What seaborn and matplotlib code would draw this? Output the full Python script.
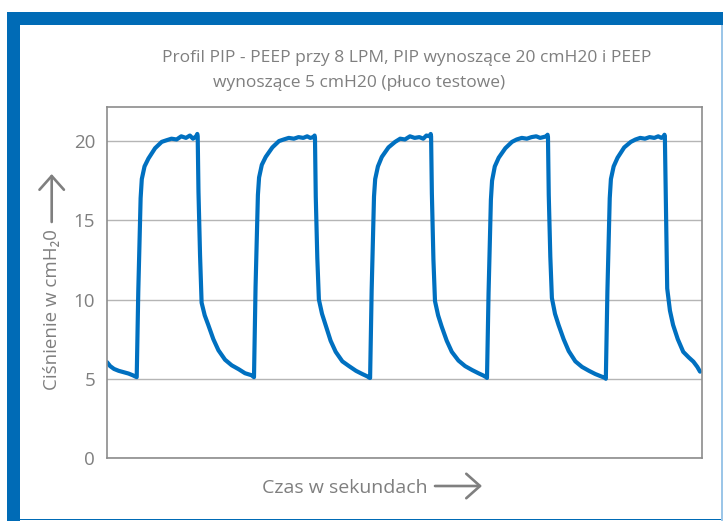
import numpy as np
import pandas as pd
import matplotlib.pyplot as plt
import seaborn as sns
from matplotlib.patches import Rectangle, FancyArrowPatch

# czas [s] i cisnienie [cmH2O], cykl po cyklu
czas_c1 = [0.00, 0.08, 0.18, 0.30, 0.42, 0.55, 0.66, 0.74,
           0.76, 0.80, 0.86, 0.89, 0.96, 1.06, 1.23, 1.40, 1.52, 1.65, 1.78, 1.90, 2.02, 2.12, 2.20, 2.28, 2.31,
           2.32, 2.34, 2.38, 2.42, 2.50, 2.59, 2.72, 2.85, 3.02, 3.19, 3.37, 3.53, 3.70, 3.75]
cisn_c1 = [6.05, 5.80, 5.62, 5.50, 5.42, 5.33, 5.22, 5.12,
           5.10, 10.5, 16.4, 17.6, 18.4, 18.9, 19.55, 19.95, 20.05, 20.15, 20.1, 20.3, 20.2, 20.35, 20.15, 20.3, 20.45,
           20.3, 16.8, 12.8, 9.8, 9.0, 8.4, 7.5, 6.8, 6.2, 5.85, 5.6, 5.35, 5.22, 5.12]

czas_c2 = [3.76, 3.80, 3.86, 3.89, 3.96, 4.06, 4.23, 4.40, 4.52, 4.65, 4.78, 4.90, 5.02, 5.12, 5.20, 5.28, 5.31,
           5.32, 5.34, 5.38, 5.42, 5.50, 5.59, 5.72, 5.85, 6.02, 6.19, 6.37, 6.53, 6.66, 6.72]
cisn_c2 = [5.10, 10.8, 16.6, 17.7, 18.5, 19.0, 19.6, 20.0, 20.1, 20.2, 20.15, 20.25, 20.2, 20.3, 20.2, 20.25, 20.35,
           20.2, 16.5, 12.6, 10.0, 9.1, 8.4, 7.4, 6.7, 6.1, 5.8, 5.5, 5.3, 5.15, 5.05]

czas_c3 = [6.73, 6.77, 6.83, 6.86, 6.93, 7.03, 7.20, 7.37, 7.50, 7.62, 7.75, 7.87, 7.99, 8.09, 8.17, 8.25, 8.28,
           8.29, 8.31, 8.35, 8.39, 8.47, 8.56, 8.69, 8.82, 8.99, 9.16, 9.34, 9.50, 9.63, 9.70]
cisn_c3 = [5.05, 10.6, 16.5, 17.6, 18.4, 19.0, 19.6, 19.95, 20.15, 20.1, 20.3, 20.2, 20.25, 20.15, 20.35, 20.3, 20.45,
           20.3, 16.7, 12.5, 9.9, 9.0, 8.3, 7.4, 6.7, 6.15, 5.8, 5.55, 5.35, 5.2, 5.1]

czas_c4 = [9.72, 9.76, 9.82, 9.85, 9.92, 10.02, 10.19, 10.36, 10.48, 10.61, 10.74, 10.86, 10.98, 11.08, 11.16, 11.24, 11.27,
           11.28, 11.30, 11.34, 11.38, 11.46, 11.55, 11.68, 11.81, 11.98, 12.15, 12.33, 12.49, 12.64, 12.74]
cisn_c4 = [5.05, 10.4, 16.3, 17.5, 18.4, 18.95, 19.55, 19.95, 20.1, 20.2, 20.15, 20.25, 20.3, 20.2, 20.25, 20.3, 20.4,
           20.25, 16.6, 12.7, 10.1, 9.1, 8.4, 7.5, 6.75, 6.1, 5.75, 5.5, 5.3, 5.15, 5.05]

czas_c5 = [12.76, 12.80, 12.86, 12.89, 12.96, 13.06, 13.23, 13.40, 13.52, 13.64, 13.76, 13.88, 14.00, 14.10, 14.18, 14.24, 14.26,
           14.27, 14.29, 14.31, 14.33, 14.40, 14.48, 14.60, 14.74, 14.88, 15.00, 15.10, 15.17]
cisn_c5 = [5.00, 10.5, 16.4, 17.6, 18.4, 18.95, 19.6, 19.95, 20.1, 20.2, 20.15, 20.25, 20.2, 20.3, 20.2, 20.3, 20.4,
           20.3, 17.0, 13.5, 10.7, 9.3, 8.4, 7.5, 6.7, 6.35, 6.08, 5.75, 5.45]

y_ticks = [0, 5, 10, 15, 20]

tytul_1 = 'Profil PIP - PEEP przy 8 LPM, PIP wynoszące 20 cmH20 i PEEP'
tytul_2 = 'wynoszące 5 cmH20 (płuco testowe)'
opis_y = 'Ciśnienie w cmH\u20820'
opis_x = 'Czas w sekundach'

df = pd.DataFrame({
    'czas': czas_c1 + czas_c2 + czas_c3 + czas_c4 + czas_c5,
    'cisnienie': cisn_c1 + cisn_c2 + cisn_c3 + cisn_c4 + cisn_c5,
})

sns.set_style('white')
plt.rcParams['font.family'] = ['Open Sans', 'DejaVu Sans']

W, H = 723, 521
fig = plt.figure(figsize=(W / 100, H / 100), dpi=100)


def fx(px):
    return px / W


def fy(py):
    return 1 - py / H


ax = fig.add_axes([fx(107), fy(458), fx(702) - fx(107), fy(107) - fy(458)])

sns.lineplot(data=df, x='czas', y='cisnienie', sort=False, estimator=None,
             color='#0070c0', lw=3.0, ax=ax)

ax.set_xlim(0, 15.22)
ax.set_ylim(0, 22.15)
ax.set_xticks([])
ax.set_yticks(y_ticks)
ax.set_xlabel('')
ax.set_ylabel('')
ax.tick_params(axis='y', length=0, pad=8.5, labelsize=13.5, labelcolor='#7f7f7f')
ax.grid(axis='y', color='#b5b5b5', lw=1.0)
ax.set_axisbelow(True)
for s in ax.spines.values():
    s.set_visible(True)
    s.set_color('#8c8c8c')
    s.set_linewidth(1.2)

grey = '#7f7f7f'
fig.text(fx(162), fy(62.5), tytul_1, fontsize=12.5, color=grey, va='baseline', ha='left')
fig.text(fx(213), fy(86.5), tytul_2, fontsize=12.5, color=grey, va='baseline', ha='left')

fig.text(fx(345), fy(493), opis_x, fontsize=14, color=grey, va='baseline', ha='center')
fig.text(fx(52), fy(310), opis_y, fontsize=13.5, color=grey, va='center', ha='center', rotation=90)

# strzalki przy opisach osi
strzalka = dict(arrowstyle='->,head_length=0.45,head_width=0.4', color=grey, lw=1.9,
                mutation_scale=22, shrinkA=0, shrinkB=0, transform=fig.transFigure)
fig.add_artist(FancyArrowPatch((fx(435), fy(486)), (fx(482), fy(486)), **strzalka))
fig.add_artist(FancyArrowPatch((fx(51.7), fy(222)), (fx(51.7), fy(174)), **strzalka))

# niebieska ramka
niebieski = '#006bb6'
fig.add_artist(Rectangle((fx(7), fy(25)), fx(W) - fx(7), fy(12) - fy(25),
                         transform=fig.transFigure, color=niebieski, lw=0))
fig.add_artist(Rectangle((fx(7), fy(H)), fx(20) - fx(7), fy(12) - fy(H),
                         transform=fig.transFigure, color=niebieski, lw=0))
fig.add_artist(Rectangle((fx(20), fy(520)), fx(W) - fx(20), fy(519) - fy(520),
                         transform=fig.transFigure, color=niebieski, lw=0))
fig.add_artist(Rectangle((fx(721), fy(H)), fx(1.5), fy(25) - fy(H),
                         transform=fig.transFigure, color='#9cc6e8', lw=0))

fig.savefig('out.png', dpi=100)
